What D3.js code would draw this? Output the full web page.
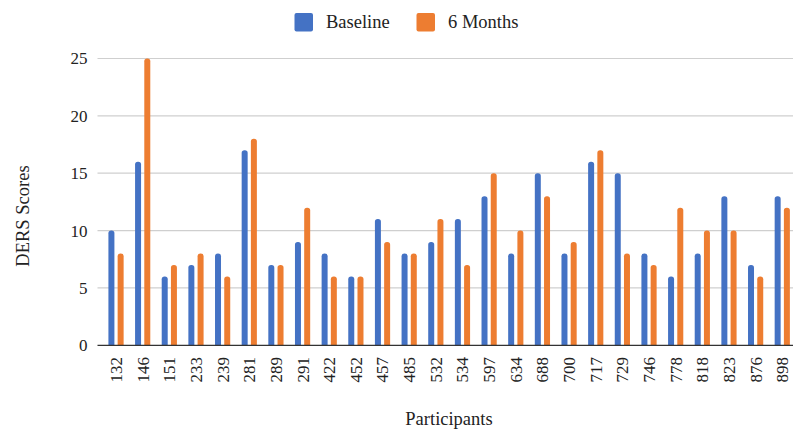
<!DOCTYPE html>
<html>
<head>
<meta charset="utf-8">
<script src="https://cdn.jsdelivr.net/npm/d3@7/dist/d3.min.js"></script>
<style>
  html, body { margin: 0; padding: 0; background: #fff; }
  svg { display: block; }
  svg text { font-family: "Liberation Serif", Tinos, "Times New Roman", Times, "DejaVu Serif", serif; }
</style>
</head>
<body>
<svg id="chart" width="793" height="432"></svg>
<script>
// Participant IDs along the x axis
const participants = ["132","146","151","233","239","281","289","291","422","452","457","485","532",
                      "534","597","634","688","700","717","729","746","778","818","823","876","898"];
// DERS scores at baseline and at the 6-month follow-up
const baseline = [10,16,6,7,8,17,7,9,8,6,11,8,9,11,13,8,15,8,16,15,8,6,8,13,7,13];
const sixMonths = [8,25,7,8,6,18,7,12,6,6,9,8,11,7,15,10,13,9,17,8,7,12,10,10,6,12];
const seriesNames = ["Baseline", "6 Months"];
const seriesColors = ["#4472C4", "#ED7D31"];
const yTicks = [0, 5, 10, 15, 20, 25];

const FONT = '"Liberation Serif", Tinos, "Times New Roman", Times, "DejaVu Serif", serif';
const svg = d3.select("#chart").attr("font-family", FONT);
const plotLeft = 97.5, plotRight = 793;

const rows = participants.map((id, i) => ({ id, values: [baseline[i], sixMonths[i]] }));

const x0 = d3.scaleBand().domain(participants).range([102.7, 795.6]);
const x1 = d3.scaleBand().domain(seriesNames).range([0, x0.bandwidth()])
  .paddingInner(0.35).paddingOuter(0.62);
const y = d3.scaleLinear().domain([0, 25]).range([345.3, 58.5]);
const color = d3.scaleOrdinal().domain(seriesNames).range(seriesColors);

// Horizontal gridlines
svg.append("g").selectAll("line").data(yTicks.filter(t => t > 0)).join("line")
  .attr("x1", plotLeft).attr("x2", plotRight)
  .attr("y1", d => y(d)).attr("y2", d => y(d))
  .attr("stroke", "#cfcfcf").attr("stroke-width", 1.2);

// Y tick labels
svg.append("g").selectAll("text").data(yTicks).join("text")
  .attr("x", 87.5).attr("y", d => y(d)).attr("dy", "0.35em")
  .attr("text-anchor", "end").attr("font-size", 17).attr("fill", "#222")
  .attr("font-family", FONT)
  .text(d => d);

// Bars with rounded tops
function barPath(x, top, w, bottom) {
  const r = Math.min(w / 2, 2.8, (bottom - top));
  return `M${x},${bottom}V${top + r}Q${x},${top} ${x + r},${top}H${x + w - r}Q${x + w},${top} ${x + w},${top + r}V${bottom}Z`;
}
const groups = svg.append("g").selectAll("g").data(rows).join("g")
  .attr("transform", d => `translate(${x0(d.id)},0)`);
groups.selectAll("path")
  .data(d => d.values.map((v, k) => ({ key: seriesNames[k], value: v })))
  .join("path")
  .attr("d", d => barPath(x1(d.key), y(d.value), x1.bandwidth(), y(0)))
  .attr("fill", d => color(d.key));

// Baseline axis
svg.append("line")
  .attr("x1", plotLeft).attr("x2", plotRight)
  .attr("y1", y(0)).attr("y2", y(0))
  .attr("stroke", "#333").attr("stroke-width", 1.3);

// X tick labels (rotated)
svg.append("g").selectAll("text").data(participants).join("text")
  .attr("transform", d => `translate(${x0(d) + x0.bandwidth() / 2},357) rotate(-90)`)
  .attr("dy", "0.35em").attr("text-anchor", "end")
  .attr("font-size", 17).attr("fill", "#222")
  .attr("font-family", FONT)
  .text(d => d);

// Axis titles
svg.append("text")
  .attr("transform", "translate(29,216) rotate(-90)")
  .attr("text-anchor", "middle").attr("font-size", 18.5).attr("fill", "#222")
  .attr("font-family", FONT)
  .text("DERS Scores");
svg.append("text")
  .attr("x", 449).attr("y", 425)
  .attr("text-anchor", "middle").attr("font-size", 18.5).attr("fill", "#222")
  .attr("font-family", FONT)
  .text("Participants");

// Legend
const legendX = [294.5, 416.5];
const legend = svg.append("g").selectAll("g").data(seriesNames).join("g")
  .attr("transform", (d, i) => `translate(${legendX[i]},13)`);
legend.append("rect")
  .attr("width", 18.5).attr("height", 18.5).attr("rx", 2)
  .attr("fill", d => color(d));
legend.append("text")
  .attr("x", 31.5).attr("y", 14.5)
  .attr("font-size", 18.5).attr("fill", "#222")
  .attr("font-family", FONT)
  .text(d => d);
</script>
</body>
</html>
